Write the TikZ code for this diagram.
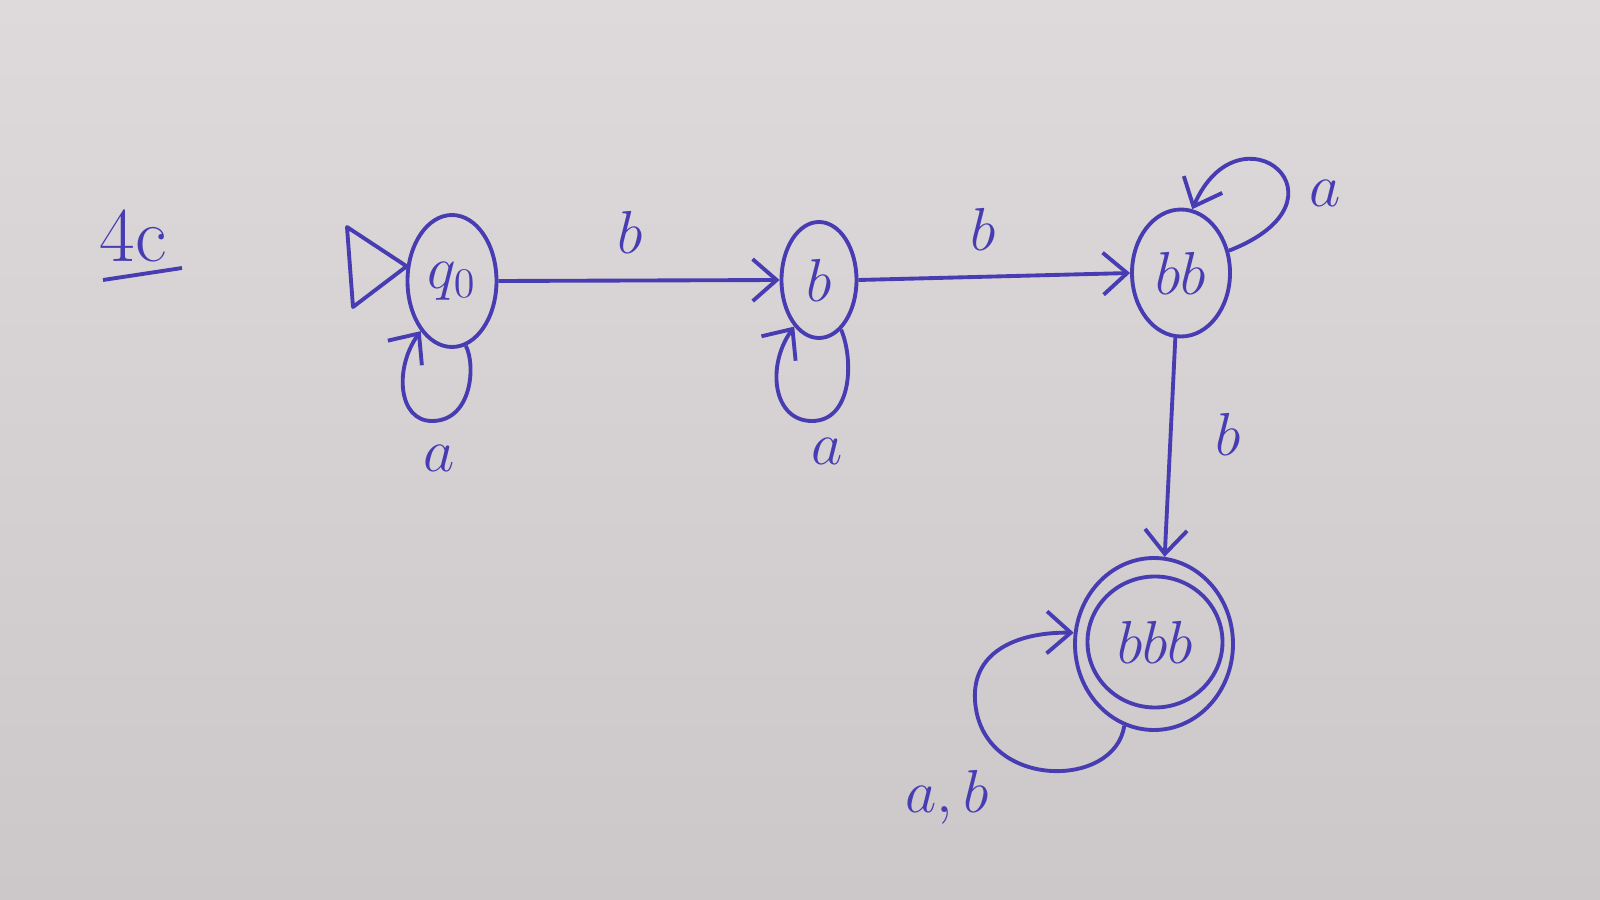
\documentclass[tikz,border=0pt]{standalone}
\usetikzlibrary{shapes.geometric,arrows.meta}
\definecolor{ink}{RGB}{72,60,178}
\definecolor{papertop}{RGB}{222,218,219}
\definecolor{paperbot}{RGB}{204,200,201}
\tikzset{
  state/.style={ellipse,draw=ink,line width=1.1pt,inner sep=0pt,text=ink,font=\fontsize{17}{20}\selectfont},
  lab/.style={text=ink,font=\fontsize{17}{20}\selectfont,inner sep=0pt},
  arr/.style={draw=ink,line width=1.1pt,-{Straight Barb[length=2.4mm,width=4.2mm]}},
  plain/.style={draw=ink,line width=1.1pt}
}
\begin{document}
\begin{tikzpicture}[x=0.1mm,y=-0.1mm]
\useasboundingbox (0,0) rectangle (1600,900);
\shade[top color=papertop,bottom color=paperbot] (0,0) rectangle (1600,900);

% title
\node[lab,font=\fontsize{22}{26}\selectfont] (title) at (133,236) {4c};
\coordinate (ul1) at (103,280);
\coordinate (ul2) at (182,268);
\draw[plain] (ul1) -- (ul2);

% states
\node[state,minimum width=8.9mm,minimum height=13.2mm] (q0) at (452,281) {$q_0$};
\node[state,minimum width=7.5mm,minimum height=11.6mm] (b) at (819,280) {$b$};
\node[state,minimum width=9.8mm,minimum height=12.7mm] (bb) at (1181,273) {$bb$};
\node[state,minimum width=15.8mm,minimum height=17.2mm] (bbb) at (1154,644) {};
\node[state,minimum width=13.5mm,minimum height=13.1mm] (bbbin) at (1155,642) {$bbb$};

% initial marker
\coordinate (t1) at (347,227);
\coordinate (t2) at (353,307);
\draw[plain,line join=round] (t1) -- (t2) -- (q0.162) -- cycle;

% transitions
\draw[arr] (q0.east) -- (b.west);
\node[lab] (l1) at (630,232) {$b$};
\draw[arr] (b.east) -- (bb.west);
\node[lab] (l2) at (983,229) {$b$};
\draw[arr] (bb.-95) -- (bbb.83);
\node[lab] (l3) at (1228,434) {$b$};

% self loops
\coordinate (q0bot) at (432,421);
\draw[arr] (q0.-78) .. controls (476,365) and (472,421) .. (q0bot)
  .. controls (398,421) and (394,368) .. (q0.-122);
\node[lab] (l4) at (439,458) {$a$};
\coordinate (bbot) at (812,421);
\draw[arr] (b.-66) .. controls (854,360) and (852,421) .. (bbot)
  .. controls (773,421) and (766,366) .. (b.-118);
\node[lab] (l5) at (827,451) {$a$};
\draw[arr] (bb.25) .. controls (1360,200) and (1240,100) .. (bb.80);
\node[lab] (l6) at (1325,193) {$a$};
\coordinate (lp) at (975,700);
\draw[arr] (bbb.-110) .. controls (1115,790) and (980,790) .. (lp)
  .. controls (972,650) and (1020,632) .. (bbb.172);
\node[lab] (l7) at (947,797) {$a,b$};
\end{tikzpicture}
\end{document}
